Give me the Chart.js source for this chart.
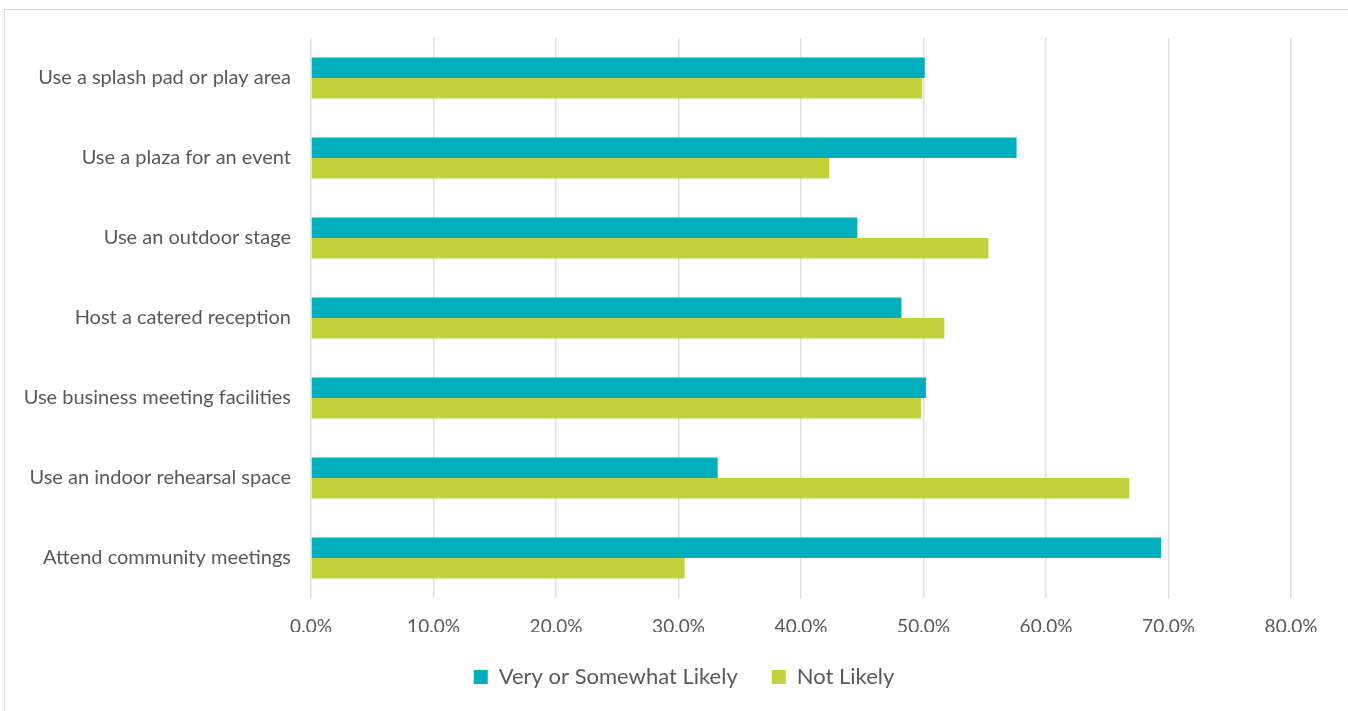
<!DOCTYPE html>
<html>
<head>
<meta charset="utf-8">
<script src="https://cdn.jsdelivr.net/npm/chart.js@4.4.1/dist/chart.umd.min.js"></script>
<style>
  html, body { margin: 0; padding: 0; background: #ffffff; }
  #wrap { position: absolute; left: 0; top: 0; width: 1348px; height: 711px; }
</style>
</head>
<body>
<div id="wrap"><canvas id="c" width="1348" height="711"></canvas></div>
<script>
const categories = [
  "Use a splash pad or play area",
  "Use a plaza for an event",
  "Use an outdoor stage",
  "Host a catered reception",
  "Use business meeting facilities",
  "Use an indoor rehearsal space",
  "Attend community meetings"
];
const likelyValues = [50.1, 57.6, 44.6, 48.2, 50.2, 33.2, 69.4];
const notLikelyValues = [49.9, 42.3, 55.3, 51.7, 49.8, 66.8, 30.5];
const seriesNames = ["Very or Somewhat Likely", "Not Likely"];
const tickMax = 80;
const tickStep = 10;

const TEXT = '#595959';
const FONT = 'Lato, "Open Sans", sans-serif';

const framePlugin = {
  id: 'frame',
  beforeDraw(chart) {
    const ctx = chart.ctx;
    ctx.save();
    ctx.strokeStyle = '#d9d9d9';
    ctx.lineWidth = 1;
    ctx.strokeRect(4.5, 9.5, 1400, 800);
    ctx.restore();
  }
};

const legendShift = {
  id: 'legendShift',
  afterLayout(chart) {
    const lg = chart.legend;
    if (lg) { lg.left = 20; lg.right = 1348; }
  }
};

new Chart(document.getElementById('c'), {
  type: 'bar',
  data: {
    labels: categories,
    datasets: [
      { label: seriesNames[0], data: likelyValues, backgroundColor: '#00AFBE', borderWidth: 0,
        categoryPercentage: 0.51, barPercentage: 1.0 },
      { label: seriesNames[1], data: notLikelyValues, backgroundColor: '#C3D13B', borderWidth: 0,
        categoryPercentage: 0.51, barPercentage: 1.0 }
    ]
  },
  options: {
    indexAxis: 'y',
    responsive: false,
    animation: false,
    layout: { padding: { left: 5, right: 57, top: 38, bottom: 13 } },
    scales: {
      x: {
        min: 0, max: tickMax,
        ticks: {
          stepSize: tickStep,
          color: TEXT,
          font: { family: FONT, size: 19 },
          padding: 17,
          callback: v => v.toFixed(1) + '%'
        },
        grid: { color: '#e0e0e0', lineWidth: 1.5, drawTicks: false },
        border: { display: false },
        afterFit(s) { s.height = 34; }
      },
      y: {
        ticks: {
          color: TEXT,
          font: { family: FONT, size: 20 },
          padding: 20
        },
        grid: { display: false, drawTicks: false },
        border: { display: false },
        afterFit(s) { s.width = 306; }
      }
    },
    plugins: {
      legend: {
        position: 'bottom',
        labels: {
          color: TEXT,
          font: { family: FONT, size: 22 },
          boxWidth: 14, boxHeight: 14,
          padding: 34
        }
      },
      tooltip: { enabled: false }
    }
  },
  plugins: [framePlugin, legendShift]
});
</script>
</body>
</html>
